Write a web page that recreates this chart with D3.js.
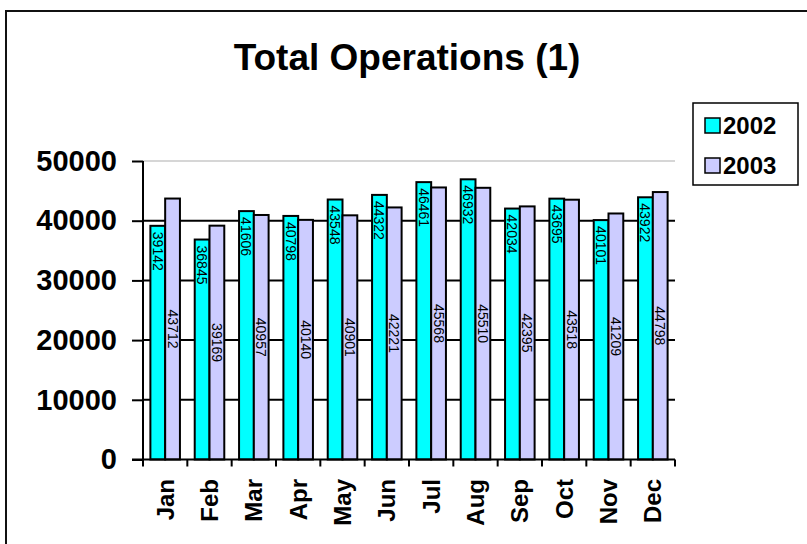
<!DOCTYPE html>
<html>
<head>
<meta charset="utf-8">
<script src="https://cdn.jsdelivr.net/npm/d3@7"></script>
<style>
  html, body { margin: 0; padding: 0; background: #fff; }
  svg { display: block; }
  text { font-family: "Liberation Sans", Arial, Helvetica, sans-serif; }
</style>
</head>
<body>
<svg id="chart" width="807" height="544"></svg>
<script>
const months = ["Jan","Feb","Mar","Apr","May","Jun","Jul","Aug","Sep","Oct","Nov","Dec"];
const seriesNames = ["2002","2003"];
const values2002 = [39142,36845,41606,40798,43548,44322,46461,46932,42034,43695,40101,43922];
const values2003 = [43712,39169,40957,40140,40901,42221,45568,45510,42395,43518,41209,44798];
const yTicks = [0,10000,20000,30000,40000,50000];
const colors = {"2002": "#00FFFF", "2003": "#CCCCFF"};
const titleText = "Total Operations (1)";

(function () {
const svg = d3.select("#chart");

// outer frame
svg.append("rect")
  .attr("x", 6).attr("y", 11).attr("width", 820).attr("height", 560)
  .attr("fill", "none").attr("stroke", "#111").attr("stroke-width", 2);

// title
svg.append("text")
  .attr("x", 407).attr("y", 70)
  .attr("text-anchor", "middle")
  .attr("font-weight", "bold").attr("font-size", 37)
  .attr("fill", "#000")
  .text(titleText);

const pLeft = 143, pRight = 675, pTop = 161, pBottom = 459.5;

const y = d3.scaleLinear().domain([0, 50000]).range([pBottom, pTop]);
const x0 = d3.scaleBand().domain(months).range([pLeft, pRight]).paddingInner(0).paddingOuter(0);
const x1 = d3.scaleBand().domain(seriesNames).range([0, x0.bandwidth()]).paddingInner(0).paddingOuter(0.5);

// gridlines
svg.append("g").selectAll("line")
  .data(yTicks.filter(t => t > 0))
  .join("line")
  .attr("x1", pLeft).attr("x2", pRight)
  .attr("y1", d => y(d)).attr("y2", d => y(d))
  .attr("stroke", d => d === 50000 ? "#c8c8c8" : "#000")
  .attr("stroke-width", d => d === 50000 ? 1.5 : 2);

// bars
const data = months.map((m, i) => ({month: m, vals: [
  {s: "2002", v: values2002[i]},
  {s: "2003", v: values2003[i]}
]}));

const groups = svg.append("g").selectAll("g")
  .data(data).join("g")
  .attr("transform", d => `translate(${x0(d.month)},0)`);

groups.selectAll("rect")
  .data(d => d.vals).join("rect")
  .attr("x", d => x1(d.s))
  .attr("y", d => y(d.v))
  .attr("width", x1.bandwidth())
  .attr("height", d => pBottom - y(d.v))
  .attr("fill", d => colors[d.s])
  .attr("stroke", "#000").attr("stroke-width", 2);

// value labels
groups.selectAll("text.val")
  .data(d => d.vals).join("text")
  .attr("class", "val")
  .attr("font-size", 14)
  .attr("fill", "#000")
  .attr("dominant-baseline", "central")
  .attr("text-anchor", d => d.s === "2002" ? "start" : "middle")
  .attr("transform", d => {
    const cx = x1(d.s) + x1.bandwidth() / 2;
    const cy = d.s === "2002" ? y(d.v) + 6 : (y(d.v) + pBottom) / 2;
    return `translate(${cx},${cy}) rotate(90)`;
  })
  .text(d => d.v);

// y axis
const yAxis = d3.axisLeft(y).tickValues(yTicks).tickSize(11).tickPadding(15).tickFormat(d3.format("d"));
const gy = svg.append("g").attr("transform", `translate(${pLeft},0)`).call(yAxis);
gy.select(".domain").attr("stroke", "#000").attr("stroke-width", 2).attr("d", `M0,${pTop}V${pBottom}`);
gy.selectAll(".tick line").attr("stroke", "#000").attr("stroke-width", 2);
gy.selectAll(".tick text")
  .attr("font-family", "'Liberation Sans', Arial, sans-serif")
  .attr("font-weight", "bold").attr("font-size", 29).attr("fill", "#000");

// x axis
svg.append("line")
  .attr("x1", 132).attr("x2", pRight)
  .attr("y1", pBottom).attr("y2", pBottom)
  .attr("stroke", "#000").attr("stroke-width", 2);

const boundaries = months.map(m => x0(m)).concat([x0(months[months.length - 1]) + x0.bandwidth()]);
svg.append("g").selectAll("line")
  .data(boundaries).join("line")
  .attr("x1", d => d).attr("x2", d => d)
  .attr("y1", pBottom).attr("y2", pBottom + 7)
  .attr("stroke", "#000").attr("stroke-width", 2);

svg.append("g").selectAll("text")
  .data(months).join("text")
  .attr("transform", d => `translate(${x0(d) + x0.bandwidth() / 2},479) rotate(-90)`)
  .attr("text-anchor", "end")
  .attr("dominant-baseline", "central")
  .attr("font-weight", "bold").attr("font-size", 24)
  .attr("fill", "#000")
  .text(d => d);

// legend
const lg = svg.append("g");
lg.append("rect")
  .attr("x", 693).attr("y", 103).attr("width", 105).attr("height", 82)
  .attr("fill", "#fff").attr("stroke", "#000").attr("stroke-width", 1.5);
const li = lg.selectAll("g.item").data(seriesNames).join("g")
  .attr("class", "item")
  .attr("transform", (d, i) => `translate(705,${118 + i * 40})`);
li.append("rect")
  .attr("width", 15).attr("height", 15)
  .attr("fill", d => colors[d]).attr("stroke", "#000").attr("stroke-width", 1.5);
li.append("text")
  .attr("x", 18).attr("y", 15.5)
  .attr("font-weight", "bold").attr("font-size", 24)
  .attr("fill", "#000")
  .text(d => d);
})();
</script>
</body>
</html>
